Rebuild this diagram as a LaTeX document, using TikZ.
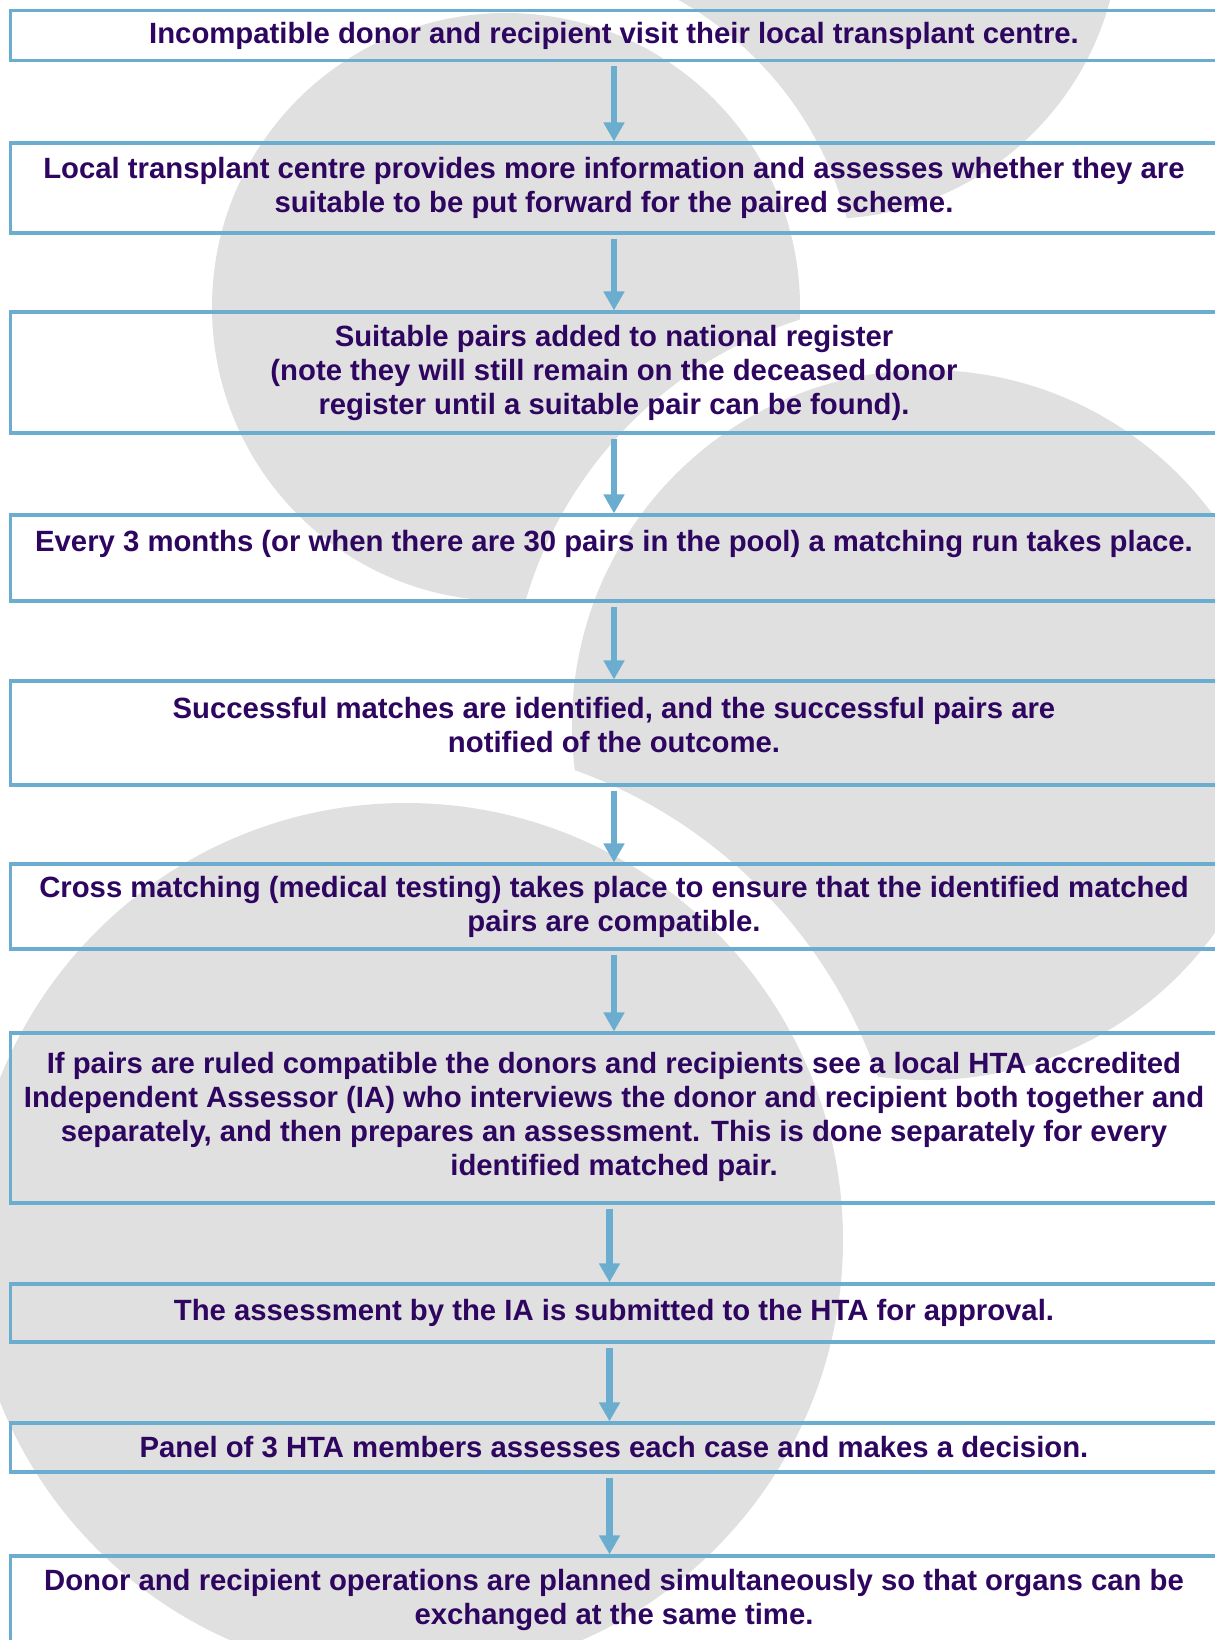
\documentclass[tikz,border=0pt]{standalone}
\usepackage{fontspec}
\setmainfont{Liberation Sans}
\usetikzlibrary{arrows.meta}
\definecolor{discgrey}{RGB}{224,224,224}
\definecolor{stepblue}{RGB}{106,173,206}
\definecolor{stepink}{RGB}{46,6,96}

\tikzset{
    stepbox/.style={draw=stepblue,line width=1.6pt,minimum width=603.5pt,align=center,
        inner xsep=0pt,inner ysep=0pt,text=stepink,font=\bfseries\fontsize{14.65pt}{17pt}\selectfont},
    flow/.style={draw=stepblue,line width=3.2pt,shorten <=2pt,-{Triangle[width=10pt,length=9.5pt]}}
}

\begin{document}
\begin{tikzpicture}[x=0.5pt,y=-0.5pt]
        \useasboundingbox (0,0) rectangle (1215,1640);
        \fill[discgrey] (825,-76) circle[radius=295];
        \fill[white] (506,307) circle[radius=352];
        \fill[discgrey] (506,307) circle[radius=294];
        \fill[white] (927,718) circle[radius=418];
        \fill[discgrey] (927,725) circle[radius=355];
        \fill[white] (406,1240) circle[radius=499];
        \fill[discgrey] (406,1240) circle[radius=437];

        \node[stepbox,minimum height=25pt] (s1) at (614,35.5)
            {Incompatible donor and recipient visit their local transplant centre.};
        \node[stepbox,minimum height=45pt] (s2) at (614,188)
            {Local transplant centre provides more information and assesses whether they are\\
             suitable to be put forward for the paired scheme.};
        \node[stepbox,minimum height=60.5pt] (s3) at (614,372.5)
            {Suitable pairs added to national register\\
             (note they will still remain on the deceased donor\\
             register until a suitable pair can be found).};
        \node[stepbox,minimum height=43pt] (s4) at (614,558)
            {Every 3 months (or when there are 30 pairs in the pool) a matching run takes place.\\ \mbox{}};
        \node[stepbox,minimum height=52pt] (s5) at (614,733)
            {Successful matches are identified, and the successful pairs are\\
             notified of the outcome.\\[-8.6pt] \mbox{}};
        \node[stepbox,minimum height=42.5pt] (s6) at (614,906.5)
            {Cross matching (medical testing) takes place to ensure that the identified matched\\
             pairs are compatible.};
        \node[stepbox,minimum height=85pt] (s7) at (614,1118)
            {If pairs are ruled compatible the donors and recipients see a local HTA accredited\\
             Independent Assessor (IA) who interviews the donor and recipient both together and\\
             separately, and then prepares an assessment. This is done separately for every\\
             identified matched pair.\\[-13pt] \mbox{}};
        \node[stepbox,minimum height=29pt] (s8) at (614,1313)
            {The assessment by the IA is submitted to the HTA for approval.};
        \node[stepbox,minimum height=24.5pt] (s9) at (614,1447.5)
            {Panel of 3 HTA members assesses each case and makes a decision.};
        \node[stepbox,minimum height=44pt] (s10) at (614,1600)
            {Donor and recipient operations are planned simultaneously so that organs can be\\
             exchanged at the same time.};

        \draw[flow] (s1) -- (s2);
        \draw[flow] (s2) -- (s3);
        \draw[flow] (s3) -- (s4);
        \draw[flow] (s4) -- (s5);
        \draw[flow] (s5) -- (s6);
        \draw[flow] (s6) -- (s7);
        \draw[flow] ([xshift=-2.25pt]s7.south) -- ([xshift=-2.25pt]s8.north);
        \draw[flow] ([xshift=-2.25pt]s8.south) -- ([xshift=-2.25pt]s9.north);
        \draw[flow] ([xshift=-2.25pt]s9.south) -- ([xshift=-2.25pt]s10.north);
\end{tikzpicture}
\end{document}
